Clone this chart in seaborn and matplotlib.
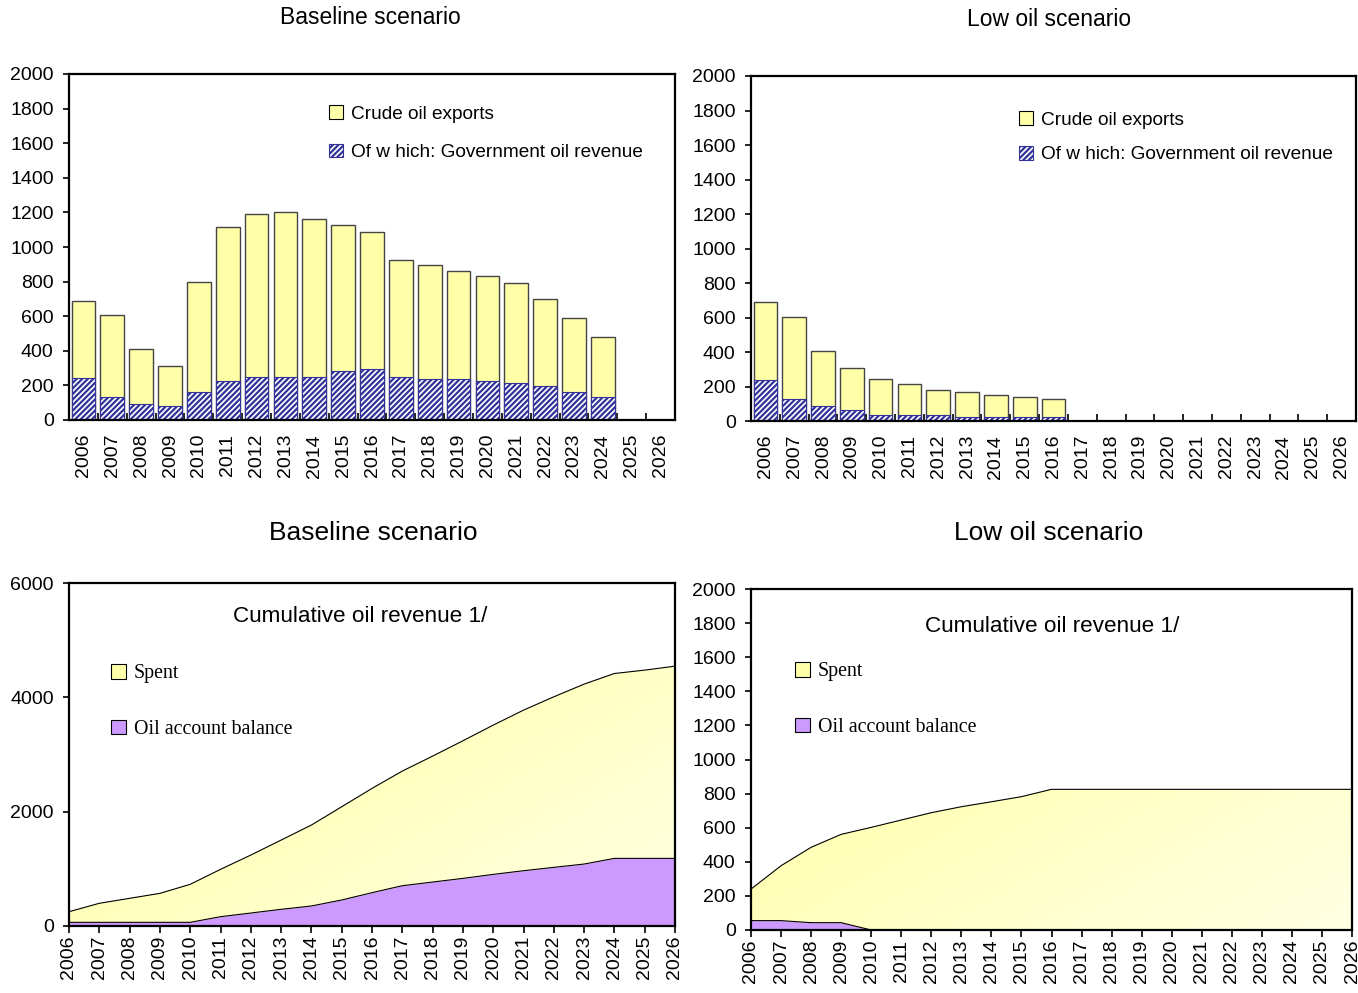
import numpy as np
import matplotlib
matplotlib.use("Agg")
import matplotlib.pyplot as plt
from matplotlib.patches import Patch
from matplotlib.colors import LinearSegmentedColormap
import seaborn as sns

sns.set_style("ticks")
plt.rcParams["font.family"] = ["Liberation Sans", "DejaVu Sans"]
plt.rcParams["hatch.linewidth"] = 1.6
for k in ["text.color", "xtick.color", "ytick.color", "axes.labelcolor"]:
    plt.rcParams[k] = "black"

years = [str(y) for y in range(2006, 2027)]

# top panels: crude oil exports and government oil revenue
base_exports = [690, 607, 410, 312, 798, 1115, 1190, 1202, 1162, 1127, 1087,
                925, 896, 861, 832, 792, 699, 590, 480, 0, 0]
base_govrev = [243, 133, 92, 81, 162, 225, 249, 249, 249, 283, 295,
               249, 237, 237, 225, 214, 197, 162, 133, 0, 0]
low_exports = [690, 603, 406, 307, 243, 214, 180, 168, 151, 139, 128,
               0, 0, 0, 0, 0, 0, 0, 0, 0, 0]
low_govrev = [235, 128, 87, 64, 35, 35, 35, 23, 23, 23, 23,
              0, 0, 0, 0, 0, 0, 0, 0, 0, 0]

# bottom panels: cumulative oil revenue (total = spent + balance)
base_cum_total = [250, 397, 484, 571, 729, 991, 1241, 1503, 1766, 2086, 2407,
                  2710, 2972, 3240, 3514, 3776, 4009, 4231, 4417, 4476, 4545]
base_balance = [64, 64, 64, 64, 64, 163, 227, 292, 350, 455, 583,
                705, 769, 833, 903, 967, 1026, 1084, 1183, 1183, 1183]
low_cum_total = [240, 377, 485, 561, 602, 645, 688, 723, 752, 782, 825,
                 825, 825, 825, 825, 825, 825, 825, 825, 825, 825]
low_balance = [55, 55, 43, 43, 0, 0, 0, 0, 0, 0, 0,
               0, 0, 0, 0, 0, 0, 0, 0, 0, 0]

YELLOW = "#FFFFA8"
HATCH_BLUE = "#333399"
PURPLE = "#CC99FF"
W, H = 1358, 993

fig = plt.figure(figsize=(13.58, 9.93), dpi=100)


def px_axes(l, t, r, b):
    return fig.add_axes([l / W, 1 - b / H, (r - l) / W, (b - t) / H])


def style_axes(ax):
    for s in ax.spines.values():
        s.set_linewidth(1.6)
        s.set_color("black")
    ax.tick_params(axis="y", direction="out", length=4, width=1.2, labelsize=14, pad=7)
    ax.set_xlabel("")
    ax.set_ylabel("")


def bar_panel(ax, exports, govrev):
    sns.barplot(x=years, y=exports, color=YELLOW, saturation=1, width=0.82,
                edgecolor="#444444", linewidth=1, errorbar=None, ax=ax)
    sns.barplot(x=years, y=govrev, color="white", saturation=1, width=0.82,
                edgecolor=HATCH_BLUE, linewidth=0.8, hatch="//////", errorbar=None, ax=ax)
    ax.set_xlim(-0.5, 20.5)
    ax.set_ylim(0, 2000)
    ax.set_yticks(range(0, 2001, 200))
    ax.set_xticks(range(21))
    ax.set_xticklabels(years, rotation=90, fontsize=14)
    ax.tick_params(axis="x", which="major", length=0, pad=10)
    ax.set_xticks(np.arange(-0.5, 21, 1), minor=True)
    ax.tick_params(axis="x", which="minor", direction="in", length=5, width=1.2)
    style_axes(ax)


cmap = LinearSegmentedColormap.from_list("yel", ["#FFFF96", "#FFFFE4"])


def area_panel(ax, total, balance, ymax, ystep):
    x = np.arange(21)
    poly = ax.fill_between(x, 0, total, color=YELLOW, linewidth=0)
    # diagonal gradient clipped to the yellow area
    gx, gy = np.meshgrid(np.linspace(0, 1, 200), np.linspace(0, 1, 200))
    grad = (gx + gy) / 2
    img = ax.imshow(grad, cmap=cmap, extent=[0, 20, 0, ymax], origin="upper",
                    aspect="auto", zorder=1)
    img.set_clip_path(poly.get_paths()[0], transform=ax.transData)
    poly.set_visible(False)
    ax.fill_between(x, 0, balance, color=PURPLE, linewidth=0, zorder=2)
    sns.lineplot(x=x, y=total, color="black", linewidth=0.8, ax=ax, zorder=3)
    sns.lineplot(x=x, y=balance, color="black", linewidth=0.8, ax=ax, zorder=3)
    ax.set_xlim(0, 20)
    ax.set_ylim(0, ymax)
    ax.set_yticks(range(0, ymax + 1, ystep))
    ax.set_xticks(x)
    ax.set_xticklabels(years, rotation=90, fontsize=14)
    ax.tick_params(axis="x", direction="out", length=5, width=1.2, pad=2)
    style_axes(ax)


ax1 = px_axes(69, 74, 675, 420)
bar_panel(ax1, base_exports, base_govrev)
ax2 = px_axes(751, 76, 1356, 421)
bar_panel(ax2, low_exports, low_govrev)
ax3 = px_axes(69, 583, 675, 926)
area_panel(ax3, base_cum_total, base_balance, 6000, 2000)
ax4 = px_axes(751, 589, 1352, 930)
area_panel(ax4, low_cum_total, low_balance, 2000, 200)

# titles
fig.text(370 / W, 1 - 17 / H, "Baseline scenario", ha="center", va="center", fontsize=16.5)
fig.text(1049 / W, 1 - 19 / H, "Low oil scenario", ha="center", va="center", fontsize=16.5)
fig.text(373 / W, 1 - 533 / H, "Baseline scenario", ha="center", va="center", fontsize=19)
fig.text(1049 / W, 1 - 533 / H, "Low oil scenario", ha="center", va="center", fontsize=19)
fig.text(360 / W, 1 - 617 / H, "Cumulative oil revenue 1/", ha="center", va="center", fontsize=16.2)
fig.text(1052 / W, 1 - 626 / H, "Cumulative oil revenue 1/", ha="center", va="center", fontsize=16.2)

top_handles = [
    Patch(facecolor=YELLOW, edgecolor="black", linewidth=0.8, label="Crude oil exports"),
    Patch(facecolor="white", edgecolor=HATCH_BLUE, hatch="//////", linewidth=0.8,
          label="Of w hich: Government oil revenue"),
]
bottom_handles = [
    Patch(facecolor=YELLOW, edgecolor="black", linewidth=0.8, label="Spent"),
    Patch(facecolor=PURPLE, edgecolor="black", linewidth=0.8, label="Oil account balance"),
]

for (px, py), handles, spacing, fam, size in [
    ((329, 105), top_handles, 1.1, "Liberation Sans", 13.7),
    ((1019, 111), top_handles, 0.9, "Liberation Sans", 13.7),
    ((111, 664), bottom_handles, 1.85, "Liberation Serif", 14.3),
    ((795, 662), bottom_handles, 1.85, "Liberation Serif", 14.3),
]:
    fig.legend(handles=handles, loc="upper left", bbox_to_anchor=(px / W, 1 - py / H),
               bbox_transform=fig.transFigure, frameon=False, borderpad=0,
               borderaxespad=0, handlelength=0.75, handleheight=0.75,
               handletextpad=0.4, labelspacing=spacing,
               prop={"family": fam, "size": size})

fig.savefig("out.png", dpi=100)
